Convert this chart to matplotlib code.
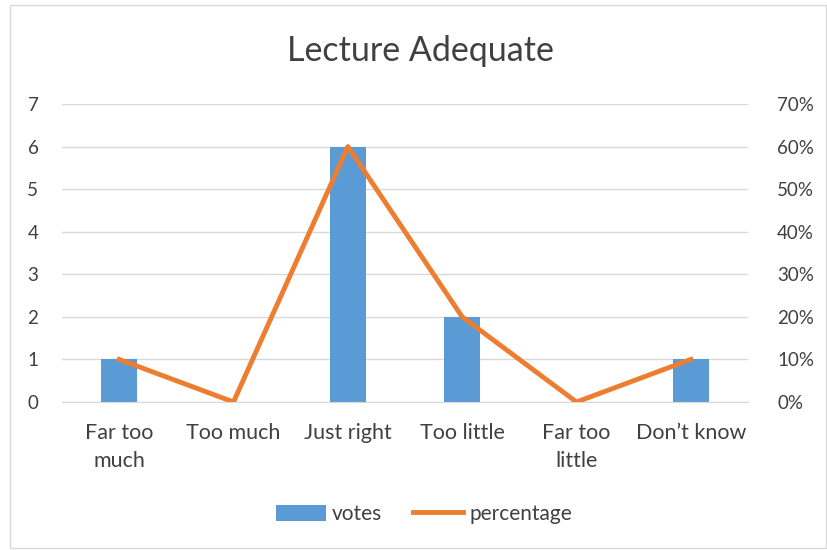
import matplotlib.pyplot as plt
from matplotlib.patches import Rectangle
from matplotlib.ticker import PercentFormatter

plt.rcParams['font.family'] = ['Lato', 'DejaVu Sans']

categories = ['Far too\nmuch', 'Too much', 'Just right', 'Too little', 'Far too\nlittle', 'Don\u2019t know']
votes = [1, 0, 6, 2, 0, 1]
percentage = [0.10, 0.0, 0.60, 0.20, 0.0, 0.10]

blue = '#5B9BD5'
orange = '#ED7D31'
text_col = '#404040'

fig = plt.figure(figsize=(8.28, 5.5), dpi=100)
fig.patches.append(Rectangle((10 / 828, 2 / 550), 816 / 828, 543 / 550, transform=fig.transFigure,
                             fill=False, edgecolor='#D9D9D9', linewidth=1))

ax = fig.add_axes([62 / 828, 1 - 402 / 550, 686 / 828, 298 / 550])
x = range(len(categories))
bars = ax.bar(x, votes, width=0.31, color=blue, zorder=2, label='votes')
ax.set_ylim(0, 7)
ax.set_xlim(-0.5, len(categories) - 0.5)
ax.set_yticks(range(0, 8))
ax.grid(axis='y', color='#D9D9D9', linewidth=1, zorder=0)
ax.set_axisbelow(True)
for s in ax.spines.values():
    s.set_visible(False)
ax.spines['bottom'].set_visible(True)
ax.spines['bottom'].set_color('#D9D9D9')
ax.tick_params(length=0, labelsize=13.5, colors=text_col)
ax.set_xticks(list(x))
ax.set_xticklabels(categories, fontsize=15.5, linespacing=1.5, va='top')
ax.tick_params(axis='x', pad=15)
ax.tick_params(axis='y', pad=17)

ax2 = ax.twinx()
line, = ax2.plot(list(x), percentage, color=orange, linewidth=3.5, solid_joinstyle='round', label='percentage', zorder=3)
ax2.set_ylim(0, 0.7)
ax2.set_yticks([i / 10 for i in range(8)])
ax2.yaxis.set_major_formatter(PercentFormatter(1.0, decimals=0))
for s in ax2.spines.values():
    s.set_visible(False)
ax2.tick_params(length=0, labelsize=13.5, colors=text_col, pad=21)

fig.text(420 / 828, 1 - 51 / 550, 'Lecture Adequate', ha='center', va='center', fontsize=24.5, color=text_col)

fig.legend([bars, line], ['votes', 'percentage'], loc='center', bbox_to_anchor=(424 / 828, 1 - 514 / 550),
           ncol=2, frameon=False, fontsize=15, labelcolor=text_col, handlelength=2.4, handleheight=0.8,
           columnspacing=1.5, handletextpad=0.3)

fig.savefig('out.png', dpi=100)
